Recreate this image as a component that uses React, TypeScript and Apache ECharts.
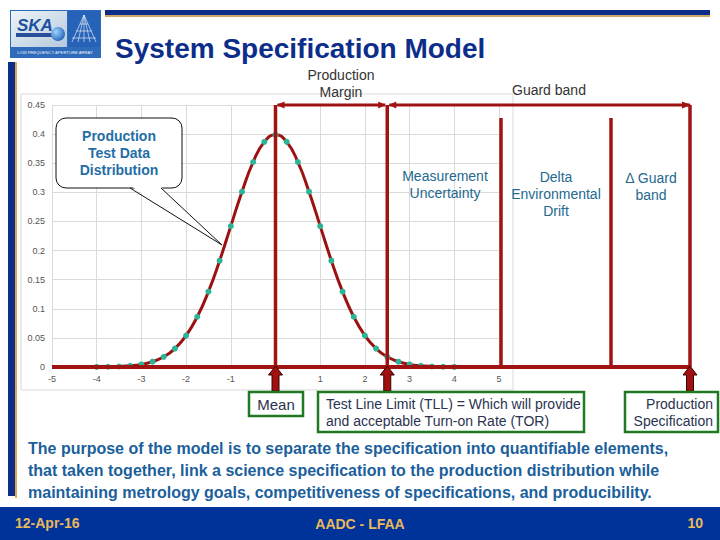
import React, { useEffect, useRef } from "react";
import * as echarts from "echarts";

// ---- data ----
const xValues = [-4, -3.75, -3.5, -3.25, -3, -2.75, -2.5, -2.25, -2, -1.75, -1.5, -1.25, -1, -0.75, -0.5, -0.25, 0,
  0.25, 0.5, 0.75, 1, 1.25, 1.5, 1.75, 2, 2.25, 2.5, 2.75, 3, 3.25, 3.5, 3.75, 4];
const yValues = [0.0001, 0.0004, 0.0009, 0.002, 0.0044, 0.0091, 0.0175, 0.0317, 0.054, 0.0863, 0.1295, 0.1826, 0.242,
  0.3011, 0.3521, 0.3867, 0.3989, 0.3867, 0.3521, 0.3011, 0.242, 0.1826, 0.1295, 0.0863, 0.054, 0.0317, 0.0175,
  0.0091, 0.0044, 0.002, 0.0009, 0.0004, 0.0001];
const xAxisRange = [-5, 5];
const yAxisRange = [0, 0.45];

const title = "System Specification Model";
const bandLabels = ["Measurement\nUncertainty", "Delta\nEnvironmental\nDrift", "Δ Guard\nband"];
const description = [
  "The purpose of the model is to separate the specification into quantifiable elements,",
  "that taken together, link a science specification to the production distribution while",
  "maintaining metrology goals, competitiveness of specifications, and producibility.",
];
const footer = ["12-Apr-16", "AADC - LFAA", "10"];

const FONT = "'Liberation Sans', Arial, sans-serif";
const RED = "#a01313";
const GREEN = "#1f7a22";
const NAVY = "#0c2e8a";

function text(x: number, y: number, t: string, o: any = {}) {
  const align = o.align || "left";
  return {
    type: "text",
    x,
    y,
    z: o.z ?? 20,
    style: {
      text: t,
      fill: o.fill || "#333",
      font: `${o.weight || "normal"} ${o.size || 14}px ${FONT}`,
      align,
      textAlign: align,
      verticalAlign: "middle",
      textVerticalAlign: "middle",
      lineHeight: o.lh || 17,
    },
  };
}

function line(x1: number, y1: number, x2: number, y2: number, o: any = {}) {
  return {
    type: "line",
    z: o.z ?? 10,
    shape: { x1, y1, x2, y2 },
    style: { stroke: o.stroke || RED, lineWidth: o.w ?? 3.5 },
  };
}

function tri(points: number[][], fill = RED) {
  return { type: "polygon", z: 11, shape: { points }, style: { fill } };
}

function upArrow(cx: number) {
  return {
    type: "polygon",
    z: 12,
    shape: {
      points: [
        [cx - 3.5, 391], [cx - 3.5, 375], [cx - 7, 375], [cx, 366], [cx + 7, 375], [cx + 3.5, 375], [cx + 3.5, 391],
      ],
    },
    style: { fill: "#a01010", stroke: "#3a0000", lineWidth: 1 },
  };
}

function box(x: number, y: number, w: number, h: number) {
  return {
    type: "rect",
    z: 13,
    shape: { x, y, width: w, height: h },
    style: { fill: "#fff", stroke: GREEN, lineWidth: 2.5 },
  };
}

export default function App() {
  const ref = useRef<HTMLDivElement>(null);

  useEffect(() => {
    if (!ref.current) return;
    const chart = echarts.init(ref.current, null, { renderer: "svg" });

    const gl = 52, gt = 105, gw = 447, gh = 262;
    const px = (v: number) => gl + ((v - xAxisRange[0]) / (xAxisRange[1] - xAxisRange[0])) * gw;
    const yBase = gt + gh;
    const xMean = px(0);
    const xTLL = px(2.5);
    const xMU = 501;
    const xDrift = 611;
    const xSpec = 690;
    const yTop = gt;

    const graphics: any[] = [
      // top decoration
      { type: "rect", z: 1, shape: { x: 105, y: 10, width: 605, height: 5 }, style: { fill: NAVY } },
      { type: "rect", z: 1, shape: { x: 105, y: 15, width: 605, height: 2 }, style: { fill: "#c9a865" } },
      // left bar
      { type: "rect", z: 1, shape: { x: 8, y: 62, width: 7, height: 434 }, style: { fill: NAVY } },
      { type: "rect", z: 1, shape: { x: 15, y: 62, width: 2, height: 436 }, style: { fill: "#e0a545" } },
      // logo
      { type: "rect", z: 1, shape: { x: 10, y: 10, width: 91, height: 48 }, style: { fill: "#2f6bbb" } },
      {
        type: "rect", z: 2, shape: { x: 11, y: 11, width: 56, height: 36 },
        style: {
          fill: new echarts.graphic.LinearGradient(0, 0, 1, 1, [
            { offset: 0, color: "#eef4f8" },
            { offset: 1, color: "#b3c9dc" },
          ]),
        },
      },
      { type: "rect", z: 3, shape: { x: 16, y: 33, width: 40, height: 4 }, style: { fill: "#2a4f9a" } },
      text(17, 25, "SKA", { size: 17, weight: "bold italic", fill: "#1d4fa0", z: 4 }),
      {
        type: "circle", z: 4, shape: { cx: 58, cy: 34, r: 7 },
        style: {
          fill: new echarts.graphic.RadialGradient(0.35, 0.35, 0.8, [
            { offset: 0, color: "#9fd4ff" },
            { offset: 1, color: "#1457b0" },
          ]),
        },
      },
      { type: "rect", z: 2, shape: { x: 68, y: 11, width: 32, height: 36 }, style: { fill: "#2562b8" } },
      ...[72, 78, 84, 90, 96].map((x2) => ({
        type: "line", z: 3, shape: { x1: 84, y1: 15, x2, y2: 42 }, style: { stroke: "#dfeaf7", lineWidth: 0.7 },
      })),
      ...[24, 31, 38].map((yy, i) => ({
        type: "line", z: 3, shape: { x1: 80 - i * 4, y1: yy, x2: 88 + i * 4, y2: yy }, style: { stroke: "#dfeaf7", lineWidth: 0.7 },
      })),
      text(55, 52, "LOW FREQUENCY APERTURE ARRAY", { size: 4.2, fill: "#eaf2fb", align: "center", z: 4, lh: 5 }),
      // title
      text(115, 48, title, { size: 28, weight: "bold", fill: NAVY, lh: 30 }),
      // chart frame
      { type: "rect", z: 0, shape: { x: 21, y: 94, width: 492, height: 296 }, style: { fill: "none", stroke: "#d9d9d9", lineWidth: 1 } },
      // baseline
      line(gl, yBase, xSpec, yBase, { w: 4 }),
      // verticals
      line(xMean, yTop, xMean, yBase),
      line(xTLL, yTop, xTLL, yBase),
      line(xMU, 118, xMU, yBase),
      line(xDrift, 118, xDrift, yBase),
      line(xSpec, yTop, xSpec, yBase),
      // top arrows
      line(xMean + 2, yTop, xTLL - 2, yTop, { w: 3 }),
      line(xTLL + 2, yTop, xSpec, yTop, { w: 3 }),
      tri([[xMean + 1, yTop], [xMean + 9, yTop - 3.5], [xMean + 9, yTop + 3.5]]),
      tri([[xTLL - 1.5, yTop], [xTLL - 9, yTop - 3.5], [xTLL - 9, yTop + 3.5]]),
      tri([[xTLL + 1.5, yTop], [xTLL + 9, yTop - 3.5], [xTLL + 9, yTop + 3.5]]),
      tri([[xSpec + 1, yTop], [xSpec - 8, yTop - 3.5], [xSpec - 8, yTop + 3.5]]),
      // up arrows
      upArrow(xMean),
      upArrow(xTLL),
      upArrow(xSpec),
      // labels above
      text(341, 83, "Production\nMargin", { fill: "#333", align: "center" }),
      text(512, 90, "Guard band", { fill: "#333" }),
      text(445, 184, bandLabels[0], { fill: "#24698f", align: "center" }),
      text(556, 194, bandLabels[1], { fill: "#24698f", align: "center" }),
      text(651, 186, bandLabels[2], { fill: "#24698f", align: "center" }),
      // callout
      { type: "rect", z: 14, shape: { x: 56, y: 118, width: 126, height: 70, r: 10 }, style: { fill: "#fff", stroke: "#111", lineWidth: 1 } },
      { type: "polygon", z: 15, shape: { points: [[131, 186], [222, 245], [160, 186]] }, style: { fill: "#fff" } },
      { type: "polyline", z: 16, shape: { points: [[130, 188], [222, 245], [161, 188]] }, style: { stroke: "#111", lineWidth: 1, fill: "none" } },
      text(119, 153, "Production\nTest Data\nDistribution", { size: 14, weight: "bold", fill: "#1f6ea5", align: "center", z: 17 }),
      // bottom boxes
      box(249, 392, 54, 24),
      text(276, 404, "Mean", { size: 15, fill: "#2b3350", align: "center", z: 14 }),
      box(318, 392, 266, 40),
      text(326, 412, "Test Line Limit (TLL) = Which will provide\nand acceptable Turn-on Rate (TOR)", { fill: "#2b3350", z: 14 }),
      box(625, 392, 93, 40),
      text(713, 412, "Production\nSpecification", { fill: "#2b3350", align: "right", z: 14 }),
      // description
      text(28, 470, description.join("\n"), { size: 16, weight: "bold", fill: "#1b5f9c", lh: 22 }),
      // footer
      { type: "rect", z: 1, shape: { x: 0, y: 507, width: 720, height: 33 }, style: { fill: "#003399" } },
      text(15, 523, footer[0], { size: 14, weight: "bold", fill: "#e9b95c" }),
      text(360, 524, footer[1], { size: 14, weight: "bold", fill: "#e9b95c", align: "center" }),
      text(703, 523, footer[2], { size: 14, weight: "bold", fill: "#e9b95c", align: "right" }),
    ];

    chart.setOption({
      animation: false,
      backgroundColor: "#ffffff",
      grid: { left: gl, top: gt, width: gw, height: gh, containLabel: false },
      xAxis: {
        type: "value",
        min: xAxisRange[0],
        max: xAxisRange[1],
        interval: 1,
        axisLine: { show: false },
        axisTick: { show: false },
        axisLabel: { color: "#555", fontSize: 9, fontFamily: FONT, margin: 7 },
        splitLine: { show: true, lineStyle: { color: "#dadada", width: 1 } },
      },
      yAxis: {
        type: "value",
        min: yAxisRange[0],
        max: yAxisRange[1],
        interval: 0.05,
        axisLine: { show: false },
        axisTick: { show: false },
        axisLabel: { color: "#555", fontSize: 9, fontFamily: FONT, margin: 7 },
        splitLine: { show: true, lineStyle: { color: "#dadada", width: 1 } },
      },
      series: [
        {
          type: "line",
          smooth: true,
          data: xValues.map((x, i) => [x, yValues[i]]),
          symbol: "circle",
          symbolSize: 6,
          showSymbol: true,
          lineStyle: { color: "#9c1212", width: 3 },
          itemStyle: { color: "#2bb596" },
          z: 5,
        },
      ],
      graphic: graphics,
    });

    return () => chart.dispose();
  }, []);

  return (
    <div
      ref={ref}
      style={{ position: "fixed", left: 0, top: 0, width: 720, height: 540, background: "#fff" }}
    />
  );
}
